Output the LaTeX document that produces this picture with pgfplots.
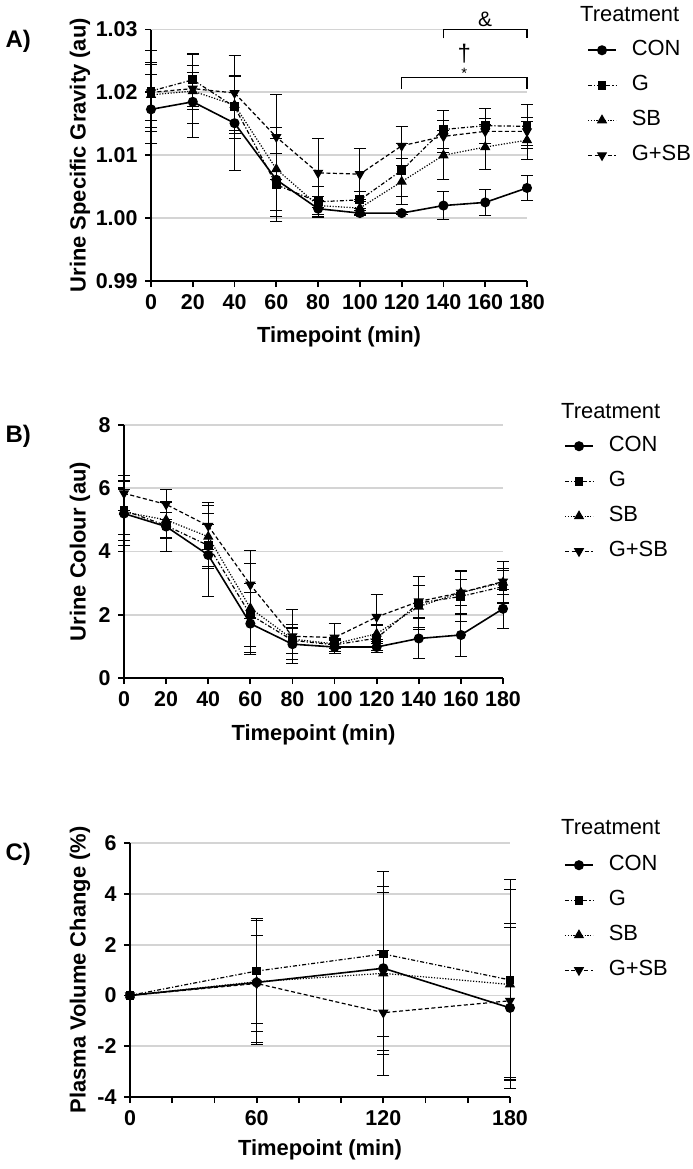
\documentclass[border=0pt]{standalone}
\usepackage{fontspec}
\setmainfont{Liberation Sans}
\usepackage{pgfplots}
\pgfplotsset{compat=1.18}

\pgfplotsset{
  panel/.style={
    scale only axis,
    axis lines=left,
    axis line style={-, line width=2bp, black},
    xmin=0, xmax=180,
    clip=false,
    tick align=outside,
    tick style={black, line width=1.8bp},
    major tick length=6bp,
    minor tick length=6bp,
    ymajorgrids,
    grid style={line width=1.8bp, black!17},
    tick label style={font=\fontsize{21.5}{22}\selectfont\bfseries},
    xticklabel style={yshift=-4bp},
    yticklabel style={xshift=-4bp},
    label style={font=\fontsize{22}{24}\selectfont\bfseries},
    /pgf/number format/assume math mode=true,
    legend style={draw=none, fill=none, inner sep=0pt, anchor=north west,
      font=\fontsize{22}{24}\selectfont, row sep=16bp,
      nodes={inner sep=0pt, text height=15bp, text depth=4bp},
      /tikz/every odd column/.style={column sep=15bp}},
    legend cell align=left,
    reverse legend,
    legend image code/.code={\draw[mark repeat=2,mark phase=2] plot coordinates {(0bp,0bp)(14bp,0bp)(28bp,0bp)};},
    error bars/y dir=both,
    error bars/y explicit,
    error bars/error mark options={black, mark size=6bp, line width=1bp, solid, rotate=90},
    error bars/error bar style={black, line width=1bp, solid},
  },
  con/.style={black, line width=1.6bp, solid, mark=*, mark size=4.2bp, mark options={solid}},
  gg/.style={black, line width=1.2bp, dash pattern=on 4bp off 2bp on 1.2bp off 2bp, mark=square*, mark size=3.8bp, mark options={solid}},
  sb/.style={black, line width=1.2bp, dash pattern=on 1.2bp off 1.6bp, mark=triangle*, mark size=4.8bp, mark options={solid}},
  gsb/.style={black, line width=1.2bp, dash pattern=on 4bp off 2.5bp, mark=triangle*, mark size=4.8bp, mark options={solid, rotate=180}},
}

\begin{document}
\begin{tikzpicture}
\useasboundingbox (0,0) rectangle (693bp,-1169bp);

% ---------------- Panel A ----------------
\begin{axis}[panel,
  at={(151bp,-281bp)}, anchor=south west,
  width=376bp, height=251.5bp,
  ymin=0.99, ymax=1.03,
  xtick={0,20,...,180},
  ytick={0.99,1.00,1.01,1.02,1.03},
  yticklabel style={/pgf/number format/.cd, fixed, fixed zerofill, precision=2},
  xlabel={Timepoint (min)}, ylabel={Urine Specific Gravity (au)},
  xlabel style={at={(axis description cs:0.5,-0.2227)}, anchor=center},
  ylabel style={at={(axis description cs:-0.1888,0.5)}, anchor=center},
  legend style={at={(axis description cs:1.1596,0.956)}},
]
\addplot+[gsb] table[x=x, y=y, y error=e] {
x y e
0 1.0200 0.0045
20 1.0206 0.0055
40 1.0199 0.0060
60 1.0129 0.0067
80 1.0072 0.0055
100 1.0070 0.0041
120 1.0115 0.0031
140 1.0130 0.0026
160 1.0138 0.0020
180 1.0138 0.0022
};
\addplot+[sb] table[x=x, y=y, y error=e] {
x y e
0 1.0196 0.0052
20 1.0202 0.0030
40 1.0180 0.0045
60 1.0078 0.0066
80 1.0020 0.0015
100 1.0016 0.0010
120 1.0058 0.0037
140 1.0100 0.0039
160 1.0113 0.0036
180 1.0124 0.0030
};
\addplot+[gg] table[x=x, y=y, y error=e] {
x y e
0 1.0202 0.0065
20 1.0220 0.0042
40 1.0177 0.0050
60 1.0053 0.0050
80 1.0026 0.0025
100 1.0029 0.0013
120 1.0076 0.0042
140 1.0141 0.0030
160 1.0147 0.0028
180 1.0146 0.0035
};
\addplot+[con] table[x=x, y=y, y error=e] {
x y e
0 1.0173 0.0055
20 1.0185 0.0057
40 1.0151 0.0075
60 1.0061 0.0066
80 1.0015 0.0013
100 1.0008 0.0004
120 1.0008 0.0003
140 1.0020 0.0022
160 1.0025 0.0021
180 1.0048 0.0020
};
\legend{G+SB,SB,G,CON}
% significance brackets
\draw[line width=1.4bp] (axis cs:140,1.0286) -- (axis cs:140,1.0300) -- (axis cs:180,1.0300) -- (axis cs:180,1.0286);
\draw[line width=1.4bp] (axis cs:120,1.0206) -- (axis cs:120,1.0224) -- (axis cs:180,1.0224) -- (axis cs:180,1.0206);
\node[font=\fontsize{21}{22}\selectfont] at (axis cs:160,1.0316) {\&};
\node[font=\fontsize{24}{26}\selectfont] at (axis cs:150,1.0262) {†};
\node[font=\fontsize{15}{16}\selectfont] at (axis cs:150,1.0230) {*};
\end{axis}

% ---------------- Panel B ----------------
\begin{axis}[panel,
  at={(124bp,-678bp)}, anchor=south west,
  width=379bp, height=253bp,
  ymin=0, ymax=8,
  xtick={0,20,...,180},
  ytick={0,2,4,6,8},
  xlabel={Timepoint (min)}, ylabel={Urine Colour (au)},
  xlabel style={at={(axis description cs:0.5,-0.2253)}, anchor=center},
  ylabel style={at={(axis description cs:-0.1161,0.5)}, anchor=center},
  legend style={at={(axis description cs:1.161,0.9545)}},
]
\addplot+[gsb] table[x=x, y=y, y error=e] {
x y e
0 5.84 0.55
20 5.49 0.48
40 4.81 0.75
60 2.95 1.08
80 1.32 0.85
100 1.28 0.45
120 1.93 0.70
140 2.42 0.50
160 2.70 0.40
180 3.05 0.40
};
\addplot+[sb] table[x=x, y=y, y error=e] {
x y e
0 5.25 0.70
20 5.00 0.55
40 4.47 1.00
60 2.21 1.40
80 1.23 0.45
100 1.08 0.15
120 1.40 0.30
140 2.26 0.65
160 2.70 0.70
180 3.02 0.65
};
\addplot+[gg] table[x=x, y=y, y error=e] {
x y e
0 5.30 0.95
20 4.82 0.40
40 4.19 0.65
60 2.00 1.00
80 1.19 0.40
100 1.05 0.20
120 1.26 0.40
140 2.37 0.85
160 2.58 0.80
180 2.89 0.50
};
\addplot+[con] table[x=x, y=y, y error=e] {
x y e
0 5.20 1.00
20 4.79 0.80
40 3.89 1.30
60 1.72 0.98
80 1.07 0.50
100 0.98 0.20
120 0.98 0.16
140 1.25 0.63
160 1.36 0.68
180 2.19 0.62
};
\legend{G+SB,SB,G,CON}
\end{axis}

% ---------------- Panel C ----------------
\begin{axis}[panel,
  at={(130bp,-1097bp)}, anchor=south west,
  width=380bp, height=254bp,
  ymin=-4, ymax=6,
  xtick={0,60,120,180},
  minor x tick num=2,
  ytick={-4,-2,0,2,4,6},
  xlabel={Timepoint (min)}, ylabel={Plasma Volume Change (\%)},
  xlabel style={at={(axis description cs:0.5,-0.2087)}, anchor=center},
  ylabel style={at={(axis description cs:-0.1316,0.5)}, anchor=center},
  legend style={at={(axis description cs:1.142,0.9508)}},
]
\addplot+[gsb] table[x=x, y=y, y error=e] {
x y e
0 0 0
60 0.47 1.90
120 -0.68 2.46
180 -0.21 3.03
};
\addplot+[sb] table[x=x, y=y, y error=e] {
x y e
0 0 0
60 0.54 2.40
120 0.87 3.20
180 0.43 3.75
};
\addplot+[gg] table[x=x, y=y, y error=e] {
x y e
0 0 0
60 0.96 2.05
120 1.63 3.23
180 0.61 3.97
};
\addplot+[con] table[x=x, y=y, y error=e] {
x y e
0 0 0
60 0.51 2.45
120 1.07 3.22
180 -0.49 3.17
};
\legend{G+SB,SB,G,CON}
\end{axis}

% panel letters and legend titles
\node[anchor=west, font=\fontsize{24}{26}\selectfont\bfseries] at (2bp,-41bp) {A)};
\node[anchor=west, font=\fontsize{24}{26}\selectfont\bfseries] at (2bp,-436bp) {B)};
\node[anchor=west, font=\fontsize{24}{26}\selectfont\bfseries] at (2bp,-854bp) {C)};
\node[anchor=west, inner sep=0pt, font=\fontsize{22}{24}\selectfont] at (580bp,-14bp) {Treatment};
\node[anchor=west, inner sep=0pt, font=\fontsize{22}{24}\selectfont] at (561bp,-411bp) {Treatment};
\node[anchor=west, inner sep=0pt, font=\fontsize{22}{24}\selectfont] at (561bp,-827bp) {Treatment};
\end{tikzpicture}
\end{document}
